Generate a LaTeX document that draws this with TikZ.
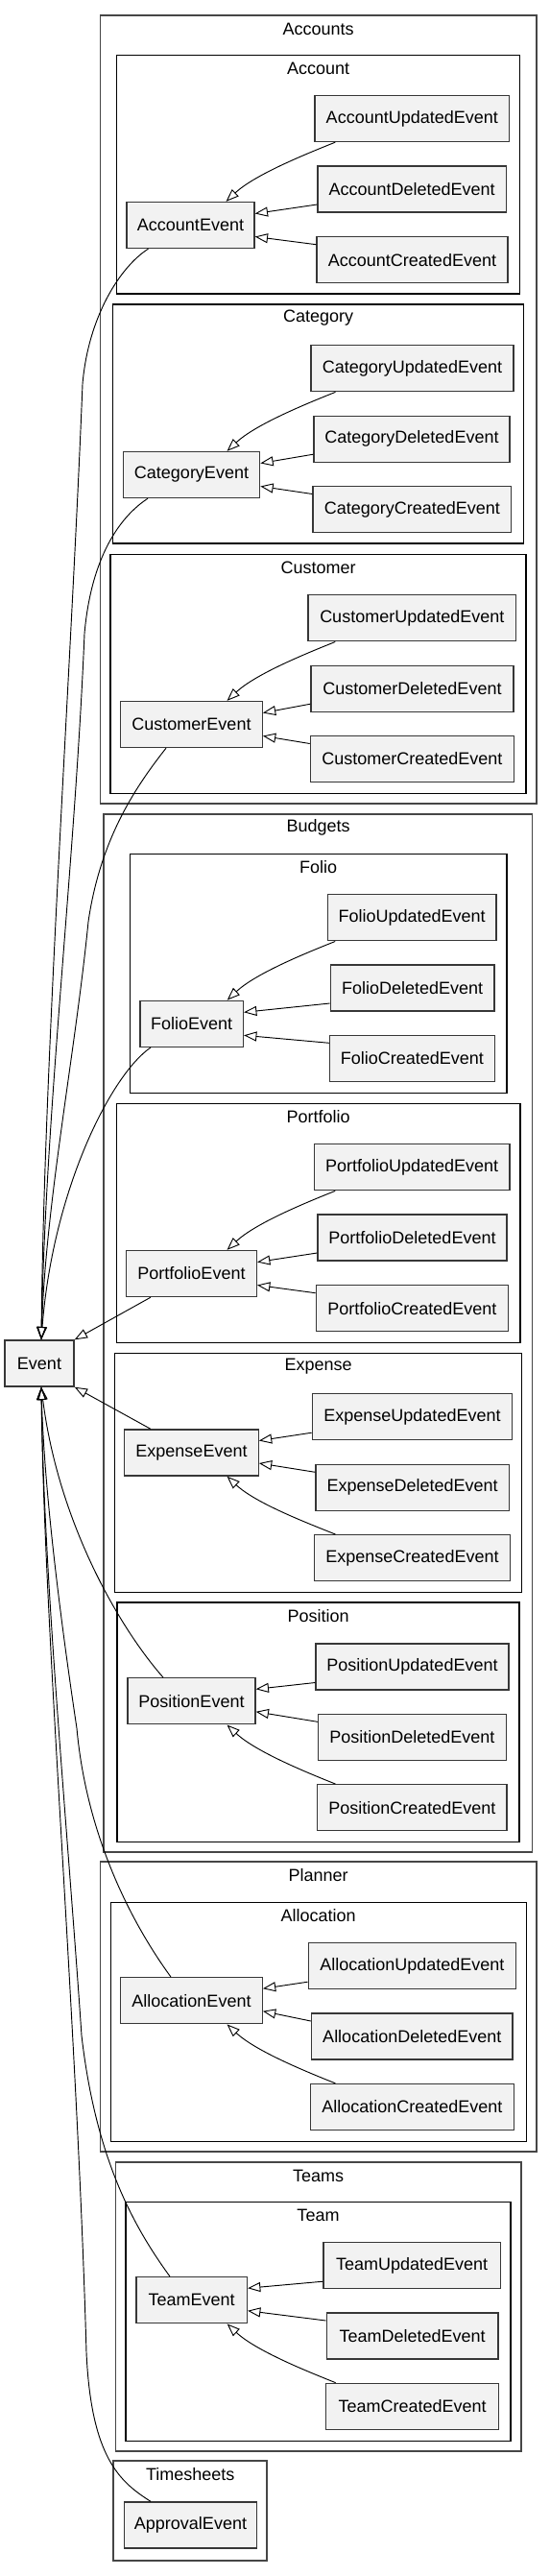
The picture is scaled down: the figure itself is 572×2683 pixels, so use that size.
\documentclass[tikz,border=0pt]{standalone}
\usepackage{fontspec}
\setmainfont{Liberation Sans}
\usetikzlibrary{arrows.meta,calc}
\definecolor{nfill}{RGB}{242,242,242}
\definecolor{nborder}{RGB}{55,55,55}
\definecolor{oborder}{RGB}{70,70,70}
\newcommand{\edgesA}[4]{%
  \draw[inh] ($(#2.south)+(-80,0)$) .. controls +(-30,12) and +(30,-28) .. ($(#1.north)+(37,0)$);
  \draw[inh] ($(#3.west)+(0,16)$) -- ($(#1.east)+(0,-12)$);
  \draw[inh] ($(#4.west)+(0,-16)$) -- ($(#1.east)+(0,12)$);
}
\newcommand{\edgesB}[4]{%
  \draw[inh] ($(#2.west)+(0,16.5)$) -- ($(#1.east)+(0,-12.5)$);
  \draw[inh] ($(#3.west)+(0,-16)$) -- ($(#1.east)+(0,11)$);
  \draw[inh] ($(#4.north)+(-80,0)$) .. controls +(-30,-12) and +(30,28) .. ($(#1.south)+(37,0)$);
}
\begin{document}
\begin{tikzpicture}[x=0.75pt,y=-0.75pt,
  font=\fontsize{13.5}{16}\selectfont,
  ev/.style={draw=nborder, fill=nfill, line width=1pt, minimum height=36pt, inner sep=1pt, anchor=center},
  mw/.style={minimum width=#1*0.75pt},
  outer/.style={draw=oborder, line width=1.3pt},
  inner/.style={draw=black, line width=0.9pt},
  ttl/.style={inner sep=0pt, anchor=center},
  inh/.style={draw=black, line width=0.7pt, -{Triangle[open, length=10pt, width=7.5pt]}}]
\useasboundingbox (0,0) rectangle (572,2683);

% ---------- clusters ----------
\draw[outer] (104.5,15.7) rectangle (559,836.7);
\node[ttl] (tAccounts) at (331.7,30) {Accounts};
\draw[inner] (121.7,57.3) rectangle (541.6,306);
\node[ttl] (tAccount) at (331.6,71.7) {Account};
\draw[inner] (117.3,317) rectangle (545.6,566);
\node[ttl] (tCategory) at (331.6,331.5) {Category};
\draw[inner] (115,577.3) rectangle (548,826.3);
\node[ttl] (tCustomer) at (331.6,591.7) {Customer};

\draw[outer] (108.3,848.3) rectangle (554.5,1929);
\node[ttl] (tBudgets) at (331.6,861.7) {Budgets};
\draw[inner] (135.3,889.3) rectangle (528,1138.3);
\node[ttl] (tFolio) at (331.6,903.3) {Folio};
\draw[inner] (121.4,1149.3) rectangle (542,1398.3);
\node[ttl] (tPortfolio) at (331.6,1163.3) {Portfolio};
\draw[inner] (119.2,1409.3) rectangle (543.8,1658.3);
\node[ttl] (tExpense) at (331.6,1423.3) {Expense};
\draw[inner] (122,1669) rectangle (541,1918.3);
\node[ttl] (tPosition) at (331.6,1683.3) {Position};

\draw[outer] (104.5,1939.3) rectangle (559.2,2241);
\node[ttl] (tPlanner) at (331.7,1953.3) {Planner};
\draw[inner] (115.1,1981.3) rectangle (548.2,2230.7);
\node[ttl] (tAllocation) at (331.6,1995.3) {Allocation};

\draw[outer] (120.6,2251.7) rectangle (542.7,2553);
\node[ttl] (tTeams) at (331.6,2266) {Teams};
\draw[inner] (130.9,2293.3) rectangle (532,2542.3);
\node[ttl] (tTeam) at (331.5,2307.7) {Team};

\draw[outer] (118.3,2563) rectangle (278.3,2667);
\node[ttl] (tTimesheets) at (198.3,2577) {Timesheets};

% ---------- nodes ----------
\node[ev, mw=72] (Event) at (41,1420) {Event};

\node[ev, mw=133] (AE) at (198.5,234.5) {AccountEvent};
\node[ev, mw=202.6] (AU) at (429.3,123.5) {AccountUpdatedEvent};
\node[ev, mw=196.3] (AD) at (429.2,197) {AccountDeletedEvent};
\node[ev, mw=199] (AC) at (429.5,270.7) {AccountCreatedEvent};

\node[ev, mw=142.3] (CaE) at (199.5,494.5) {CategoryEvent};
\node[ev, mw=211] (CaU) at (429.5,383.7) {CategoryUpdatedEvent};
\node[ev, mw=204] (CaD) at (429,457.2) {CategoryDeletedEvent};
\node[ev, mw=206.8] (CaC) at (429.4,530.5) {CategoryCreatedEvent};

\node[ev, mw=147.4] (CuE) at (199.5,754.5) {CustomerEvent};
\node[ev, mw=216.6] (CuU) at (429.3,643.8) {CustomerUpdatedEvent};
\node[ev, mw=211] (CuD) at (429.5,717.2) {CustomerDeletedEvent};
\node[ev, mw=212] (CuC) at (429.4,790.5) {CustomerCreatedEvent};

\node[ev, mw=107.4] (FE) at (199.7,1066.3) {FolioEvent};
\node[ev, mw=175.6] (FU) at (429.2,955.8) {FolioUpdatedEvent};
\node[ev, mw=170.6] (FD) at (429.6,1029) {FolioDeletedEvent};
\node[ev, mw=171.6] (FC) at (429.4,1102.3) {FolioCreatedEvent};

\node[ev, mw=135.7] (PfE) at (199.5,1326.5) {PortfolioEvent};
\node[ev, mw=203.5] (PfU) at (429.2,1215.7) {PortfolioUpdatedEvent};
\node[ev, mw=197] (PfD) at (429.5,1289) {PortfolioDeletedEvent};
\node[ev, mw=200.2] (PfC) at (429.4,1362.7) {PortfolioCreatedEvent};

\node[ev, mw=139.4] (EE) at (199.5,1513) {ExpenseEvent};
\node[ev, mw=208.3] (EU) at (429.5,1475.7) {ExpenseUpdatedEvent};
\node[ev, mw=201.3] (ED) at (429.7,1549.3) {ExpenseDeletedEvent};
\node[ev, mw=203.9] (EC) at (429.5,1622.7) {ExpenseCreatedEvent};

\node[ev, mw=132.9] (PoE) at (199.5,1771.8) {PositionEvent};
\node[ev, mw=201] (PoU) at (429.5,1736) {PositionUpdatedEvent};
\node[ev, mw=195.8] (PoD) at (429.4,1809.3) {PositionDeletedEvent};
\node[ev, mw=197.2] (PoC) at (429.4,1882.7) {PositionCreatedEvent};

\node[ev, mw=147.4] (AlE) at (199.5,2083.7) {AllocationEvent};
\node[ev, mw=216.4] (AlU) at (429.4,2047.7) {AllocationUpdatedEvent};
\node[ev, mw=209.5] (AlD) at (429.3,2121) {AllocationDeletedEvent};
\node[ev, mw=212] (AlC) at (429.4,2194.5) {AllocationCreatedEvent};

\node[ev, mw=115.5] (TE) at (199.6,2395.7) {TeamEvent};
\node[ev, mw=184.4] (TU) at (429.2,2359.7) {TeamUpdatedEvent};
\node[ev, mw=178.6] (TD) at (429.6,2433) {TeamDeletedEvent};
\node[ev, mw=180] (TC) at (429.6,2506.3) {TeamCreatedEvent};

\node[ev, mw=138.4] (ApE) at (198.5,2630) {ApprovalEvent};

% ---------- edges inside clusters ----------
\edgesA{AE}{AU}{AD}{AC}
\edgesA{CaE}{CaU}{CaD}{CaC}
\edgesA{CuE}{CuU}{CuD}{CuC}
\edgesA{FE}{FU}{FD}{FC}
\edgesA{PfE}{PfU}{PfD}{PfC}
\edgesB{EE}{EU}{ED}{EC}
\edgesB{PoE}{PoU}{PoD}{PoC}
\edgesB{AlE}{AlU}{AlD}{AlC}
\edgesB{TE}{TU}{TD}{TC}

% ---------- edges to Event ----------
\coordinate (etop) at ($(Event.north)+(2,0)$);
\coordinate (ebot) at ($(Event.south)+(2,0)$);

\draw[inh] ($(AE.south)+(-44,0)$) .. controls (125,278) and (92,330) .. (86,400)
  .. controls (74,700) and (46,1100) .. (etop);
\draw[inh] ($(CaE.south)+(-45.5,0)$) .. controls (125,538) and (95,580) .. (88,660)
  .. controls (78,900) and (48,1150) .. (etop);
\draw[inh] ($(CuE.south)+(-26.5,0)$) .. controls (145,815) and (105,870) .. (92,960)
  .. controls (78,1100) and (48,1250) .. (etop);
\draw[inh] ($(FE.south)+(-42.7,0)$) .. controls (115,1120) and (55,1240) .. (etop);
\draw[inh] ($(PfE.south)+(-42.5,0)$) -- (Event.north east);
\draw[inh] ($(EE.north)+(-42.5,0)$) -- (Event.south east);
\draw[inh] ($(PoE.north)+(-29.5,0)$) .. controls (120,1690) and (60,1580) .. (ebot);
\draw[inh] ($(AlE.north)+(-21.5,0)$) .. controls (135,2000) and (90,1910) .. (80,1800)
  .. controls (62,1680) and (46,1550) .. (ebot);
\draw[inh] ($(TE.north)+(-22.6,0)$) .. controls (140,2320) and (100,2250) .. (85,2120)
  .. controls (70,1900) and (46,1650) .. (ebot);
\draw[inh] ($(ApE.north)+(-41.5,0)$) .. controls (125,2585) and (95,2560) .. (90,2450)
  .. controls (80,2100) and (46,1700) .. (ebot);
\end{tikzpicture}
\end{document}
